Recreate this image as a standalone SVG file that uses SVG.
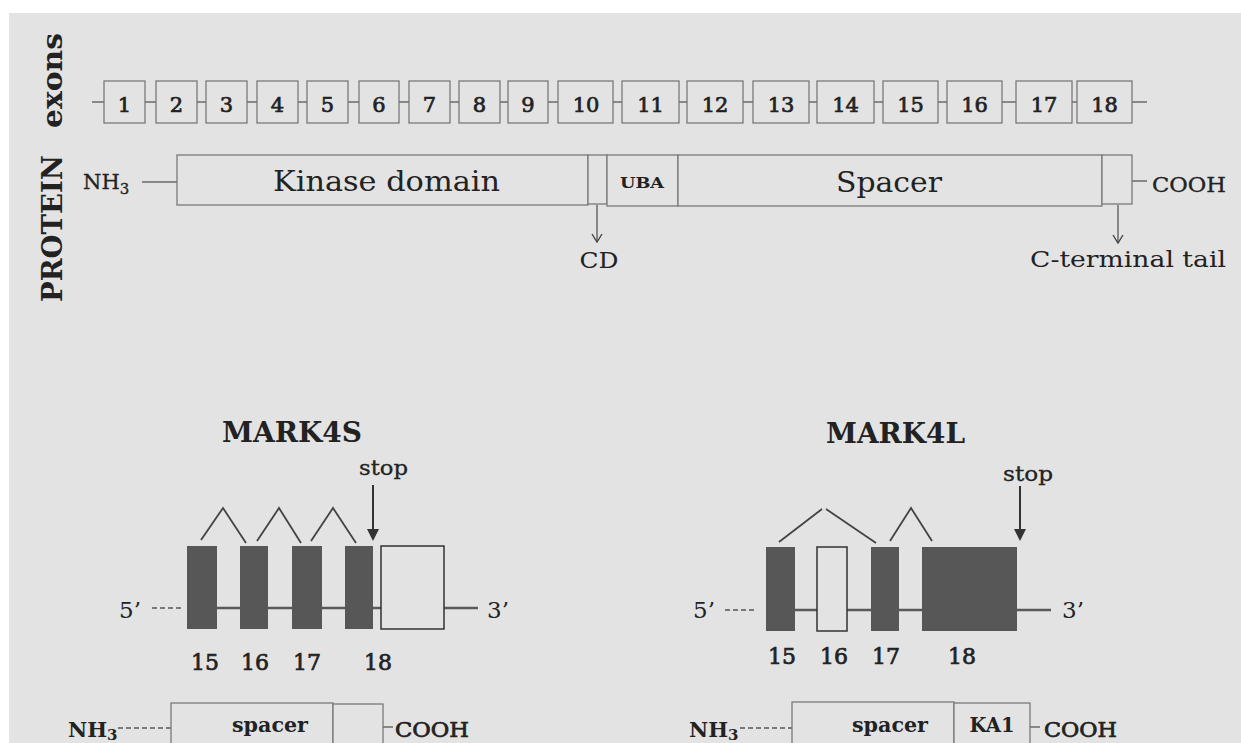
<svg xmlns="http://www.w3.org/2000/svg" width="1241" height="743" viewBox="0 0 1241 743">
<defs>
<style>
.t{font-family:"DejaVu Serif","Liberation Serif",serif;fill:#222}
.b{font-weight:bold}
.m{stroke:#222;stroke-width:0.7}
.s{stroke:#222;stroke-width:0.3}
.ex{fill:#e3e3e3;stroke:#7a7a7a;stroke-width:1.3}
.pb{fill:#e3e3e3;stroke:#7a7a7a;stroke-width:1.3}
.ln{stroke:#6a6a6a;stroke-width:1.5;fill:none}
.gl{stroke:#5a5a5a;stroke-width:2.5;fill:none}
.dk{fill:#575757}
.wb{fill:#e3e3e3;stroke:#333;stroke-width:1.5}
.sp{stroke:#444;stroke-width:1.8;fill:none}
.ds{stroke:#555;stroke-width:1.5;stroke-dasharray:5,3;fill:none}
</style>
<marker id="va" viewBox="0 0 12 12" refX="11" refY="6" markerWidth="12" markerHeight="12" markerUnits="userSpaceOnUse" orient="auto">
<path d="M3,1 L11,6 L3,11" fill="none" stroke="#444" stroke-width="1.4"/>
</marker>
</defs>
<rect x="0" y="0" width="1241" height="743" fill="#ffffff"/>
<rect x="9" y="13" width="1232" height="730" fill="#e3e3e3"/>

<!-- side labels -->
<g id="side-labels">
<text class="t b" transform="translate(62,302) rotate(-90)" font-size="28" textLength="147" lengthAdjust="spacingAndGlyphs">PROTEIN</text>
<text class="t b" transform="translate(62,128) rotate(-90)" font-size="28" textLength="95" lengthAdjust="spacingAndGlyphs">exons</text>
</g>

<!-- connectors -->
<g id="connectors">
<line class="ln" x1="92" y1="102" x2="1147" y2="102"/>
<line class="ln" x1="142" y1="182" x2="177" y2="182"/>
<line class="ln" x1="1132" y1="181" x2="1147" y2="181"/>
<line class="ln" x1="597" y1="205" x2="597" y2="242" marker-end="url(#va)"/>
<line class="ln" x1="1118" y1="205" x2="1118" y2="243" marker-end="url(#va)"/>
</g>

<!-- exons row -->
<g id="exons">
<g id="exon-1"><rect class="ex" x="104" y="81" width="41" height="42"/><text class="t m" x="124.5" y="112" font-size="21" text-anchor="middle">1</text></g>
<g id="exon-2"><rect class="ex" x="156" y="81" width="41" height="42"/><text class="t m" x="176.5" y="112" font-size="21" text-anchor="middle">2</text></g>
<g id="exon-3"><rect class="ex" x="206" y="81" width="41" height="42"/><text class="t m" x="226.5" y="112" font-size="21" text-anchor="middle">3</text></g>
<g id="exon-4"><rect class="ex" x="257" y="81" width="41" height="42"/><text class="t m" x="277.5" y="112" font-size="21" text-anchor="middle">4</text></g>
<g id="exon-5"><rect class="ex" x="307" y="81" width="41" height="42"/><text class="t m" x="327.5" y="112" font-size="21" text-anchor="middle">5</text></g>
<g id="exon-6"><rect class="ex" x="359" y="81" width="40" height="42"/><text class="t m" x="379" y="112" font-size="21" text-anchor="middle">6</text></g>
<g id="exon-7"><rect class="ex" x="409" y="81" width="41" height="42"/><text class="t m" x="429.5" y="112" font-size="21" text-anchor="middle">7</text></g>
<g id="exon-8"><rect class="ex" x="459" y="81" width="41" height="42"/><text class="t m" x="479.5" y="112" font-size="21" text-anchor="middle">8</text></g>
<g id="exon-9"><rect class="ex" x="508" y="81" width="40" height="42"/><text class="t m" x="528" y="112" font-size="21" text-anchor="middle">9</text></g>
<g id="exon-10"><rect class="ex" x="558" y="81" width="55" height="42"/><text class="t m" x="586" y="112" font-size="21" text-anchor="middle">10</text></g>
<g id="exon-11"><rect class="ex" x="622" y="81" width="57" height="42"/><text class="t m" x="650.5" y="112" font-size="21" text-anchor="middle">11</text></g>
<g id="exon-12"><rect class="ex" x="687" y="81" width="56" height="42"/><text class="t m" x="715" y="112" font-size="21" text-anchor="middle">12</text></g>
<g id="exon-13"><rect class="ex" x="753" y="81" width="56" height="42"/><text class="t m" x="781" y="112" font-size="21" text-anchor="middle">13</text></g>
<g id="exon-14"><rect class="ex" x="817" y="81" width="57" height="42"/><text class="t m" x="845.5" y="112" font-size="21" text-anchor="middle">14</text></g>
<g id="exon-15"><rect class="ex" x="883" y="81" width="55" height="42"/><text class="t m" x="910.5" y="112" font-size="21" text-anchor="middle">15</text></g>
<g id="exon-16"><rect class="ex" x="947" y="81" width="55" height="42"/><text class="t m" x="974.5" y="112" font-size="21" text-anchor="middle">16</text></g>
<g id="exon-17"><rect class="ex" x="1016" y="81" width="56" height="42"/><text class="t m" x="1044" y="112" font-size="21" text-anchor="middle">17</text></g>
<g id="exon-18"><rect class="ex" x="1077" y="81" width="55" height="42"/><text class="t m" x="1104.5" y="112" font-size="21" text-anchor="middle">18</text></g>
</g>

<!-- protein row -->
<g id="protein">
<text class="t s" x="83" y="189" font-size="21">NH<tspan font-size="15" dy="5">3</tspan></text>
<g id="kinase-domain"><rect class="pb" x="177" y="155" width="411" height="50"/><text class="t" x="273" y="191" font-size="28" textLength="227" lengthAdjust="spacingAndGlyphs">Kinase domain</text></g>
<g id="cd"><rect class="pb" x="588" y="155" width="19" height="49"/></g>
<g id="uba"><rect class="pb" x="607" y="155" width="71" height="51"/><text class="t b" x="642" y="188" font-size="14" text-anchor="middle" textLength="44" lengthAdjust="spacingAndGlyphs">UBA</text></g>
<g id="spacer"><rect class="pb" x="678" y="155" width="424" height="51"/><text class="t" x="836" y="192" font-size="27" textLength="106" lengthAdjust="spacingAndGlyphs">Spacer</text></g>
<g id="cterm"><rect class="pb" x="1102" y="155" width="30" height="49"/></g>
<text class="t s" x="1152" y="192" font-size="20" textLength="74" lengthAdjust="spacingAndGlyphs">COOH</text>
<text class="t" x="599" y="268" font-size="23" text-anchor="middle" textLength="39" lengthAdjust="spacingAndGlyphs">CD</text>
<text class="t" x="1030" y="267" font-size="23" textLength="196" lengthAdjust="spacingAndGlyphs">C-terminal tail</text>
</g>

<!-- MARK4S -->
<g id="mark4s">
<text class="t b" x="222" y="442" font-size="27" textLength="140" lengthAdjust="spacingAndGlyphs">MARK4S</text>
<text class="t s" x="359" y="475" font-size="20" textLength="49" lengthAdjust="spacingAndGlyphs">stop</text>
<line x1="373" y1="485" x2="373" y2="530" stroke="#333" stroke-width="2"/>
<path d="M367,529 L379,529 L373,541 Z" fill="#333"/>
<line class="ds" x1="152" y1="608" x2="184" y2="608"/>
<line class="gl" x1="187" y1="608" x2="381" y2="608"/>
<line class="gl" x1="444" y1="608" x2="478" y2="608"/>
<rect class="dk" x="187" y="546" width="30" height="83"/>
<rect class="dk" x="240" y="546" width="28" height="83"/>
<rect class="dk" x="292" y="546" width="30" height="83"/>
<rect class="dk" x="345" y="546" width="28" height="83"/>
<rect class="wb" x="381" y="546" width="63" height="83"/>
<polyline class="sp" points="201,540 223,508 246,543"/>
<polyline class="sp" points="257,541 279,508 301,543"/>
<polyline class="sp" points="311,541 333,508 356,543"/>
<text class="t" x="119" y="618" font-size="23">5’</text>
<text class="t" x="487" y="618" font-size="23">3’</text>
<text class="t m" x="205" y="670" font-size="22" text-anchor="middle">15</text>
<text class="t m" x="255" y="670" font-size="22" text-anchor="middle">16</text>
<text class="t m" x="307" y="670" font-size="22" text-anchor="middle">17</text>
<text class="t m" x="378" y="670" font-size="22" text-anchor="middle">18</text>
<g id="mark4s-protein">
<text class="t b" x="68" y="737" font-size="21">NH<tspan font-size="15" dy="3">3</tspan></text>
<line class="ds" x1="118" y1="728" x2="171" y2="728"/>
<rect class="pb" x="171" y="703" width="162" height="60"/>
<rect class="pb" x="333" y="704" width="50" height="60"/>
<text class="t b" x="270" y="732" font-size="20" text-anchor="middle" textLength="76" lengthAdjust="spacingAndGlyphs">spacer</text>
<line class="ln" x1="383" y1="727" x2="393" y2="727"/>
<text class="t m" x="395" y="737" font-size="21" textLength="74" lengthAdjust="spacingAndGlyphs">COOH</text>
</g>
</g>

<!-- MARK4L -->
<g id="mark4l">
<text class="t b" x="826" y="443" font-size="27" textLength="139" lengthAdjust="spacingAndGlyphs">MARK4L</text>
<text class="t s" x="1003" y="481" font-size="20" textLength="50" lengthAdjust="spacingAndGlyphs">stop</text>
<line x1="1020" y1="486" x2="1020" y2="530" stroke="#333" stroke-width="2"/>
<path d="M1014,529 L1026,529 L1020,541 Z" fill="#333"/>
<line class="ds" x1="725" y1="610" x2="755" y2="610"/>
<line class="gl" x1="766" y1="610" x2="1051" y2="610"/>
<rect class="dk" x="766" y="547" width="29" height="84"/>
<rect class="wb" x="817" y="547" width="30" height="84"/>
<rect class="dk" x="871" y="547" width="28" height="84"/>
<rect class="dk" x="922" y="547" width="95" height="84"/>
<polyline class="sp" points="779,542 822,509"/>
<polyline class="sp" points="826,509 876,543"/>
<polyline class="sp" points="890,541 911,508 932,541"/>
<text class="t" x="693" y="618" font-size="23">5’</text>
<text class="t" x="1062" y="618" font-size="23">3’</text>
<text class="t m" x="782" y="664" font-size="22" text-anchor="middle">15</text>
<text class="t m" x="834" y="664" font-size="22" text-anchor="middle">16</text>
<text class="t m" x="886" y="664" font-size="22" text-anchor="middle">17</text>
<text class="t m" x="962" y="664" font-size="22" text-anchor="middle">18</text>
<g id="mark4l-protein">
<text class="t b" x="689" y="737" font-size="21">NH<tspan font-size="15" dy="3">3</tspan></text>
<line class="ds" x1="740" y1="728" x2="792" y2="728"/>
<rect class="pb" x="792" y="702" width="162" height="60"/>
<rect class="pb" x="954" y="703" width="76" height="60"/>
<text class="t b" x="890" y="732" font-size="20" text-anchor="middle" textLength="76" lengthAdjust="spacingAndGlyphs">spacer</text>
<text class="t b" x="992" y="732" font-size="20" text-anchor="middle" textLength="45" lengthAdjust="spacingAndGlyphs">KA1</text>
<line class="ln" x1="1030" y1="727" x2="1040" y2="727"/>
<text class="t m" x="1044" y="737" font-size="21" textLength="73" lengthAdjust="spacingAndGlyphs">COOH</text>
</g>
</g>
</svg>
